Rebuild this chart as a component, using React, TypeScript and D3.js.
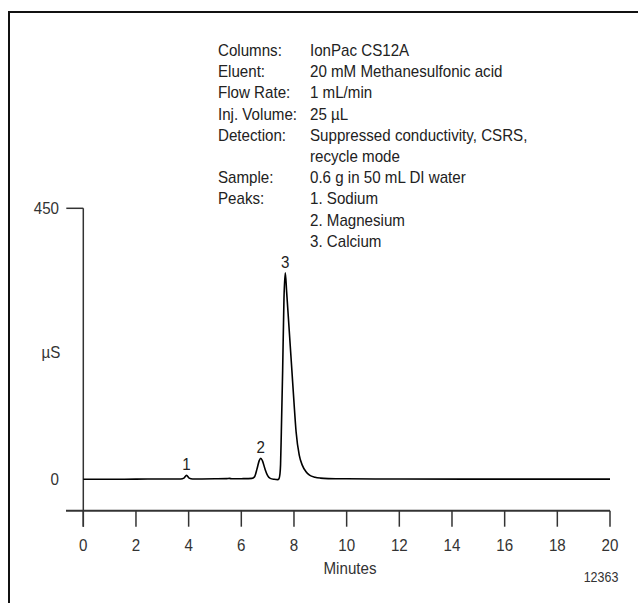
import * as d3 from 'd3'

// chromatogram trace: [minutes, µS]
const traceTimes = [
  0, 1, 2, 3, 3.7, 3.82, 3.92, 4.02, 4.15, 4.5, 5.0, 5.45, 5.55, 5.65, 6.0, 6.4,
  6.5, 6.6, 6.68, 6.74, 6.8, 6.9, 7.0, 7.1, 7.25, 7.38, 7.43, 7.47, 7.49, 7.52,
  7.57, 7.62, 7.67, 7.72, 7.8, 7.92, 8.0, 8.08, 8.2, 8.31, 8.45, 8.59, 8.8, 9.0, 9.3,
  10, 12, 15, 20,
]
const traceValues = [
  0, 0, 0.3, 0.5, 0.5, 2, 6.5, 2, 0.6, 0.6, 0.8, 1.2, 1.5, 0.8, 1, 1.5,
  4, 18, 31, 35, 31, 17, 6, 1.5, 0, -0.5, 1, 10, 24, 79,
  181, 300, 343, 312, 260, 181, 128, 79, 40, 24, 13, 7, 3.5, 2, 1.2,
  0.8, 0.5, 0.3, 0.3,
]

const peakNames = ['1', '2', '3']
const peakTimes = [3.92, 6.74, 7.67]
const peakHeights = [6.5, 35, 343]

const xTicks = [0, 2, 4, 6, 8, 10, 12, 14, 16, 18, 20]
const yTickLabels = [0, 450]

const infoLabels = ['Columns:', 'Eluent:', 'Flow Rate:', 'Inj. Volume:', 'Detection:', '', 'Sample:', 'Peaks:', '', '']
const infoValues = [
  'IonPac CS12A',
  '20 mM Methanesulfonic acid',
  '1 mL/min',
  '25 µL',
  'Suppressed conductivity, CSRS,',
  'recycle mode',
  '0.6 g in 50 mL DI water',
  '1. Sodium',
  '2. Magnesium',
  '3. Calcium',
]

const font = "'Liberation Sans', Arial, sans-serif"
const squeeze = 0.89

// narrow text: the original uses a condensed face
const T = (props: { x: number, y: number, size?: number, anchor?: string, fill?: string, children: any }) => {
  const { x, y, size = 17, anchor = 'start', fill = '#333', children } = props
  return (
    <text transform={`translate(${x},${y}) scale(${squeeze},1)`} fontSize={size} textAnchor={anchor} fill={fill}>
      {children}
    </text>
  )
}

export default function App() {
  const width = 638
  const height = 603

  const x = d3.scaleLinear().domain([0, 20]).range([83.3, 610])
  const y = d3.scaleLinear().domain([0, 450]).range([479.3, 208.3])
  const axisY = 510.7

  const points: [number, number][] = traceTimes.map((t, i) => [t, traceValues[i]])
  const line = d3.line<[number, number]>()
    .x(d => x(d[0]))
    .y(d => y(d[1]))
    .curve(d3.curveMonotoneX)

  return (
    <svg width={width} height={height} style={{ position: 'absolute', left: 0, top: 0, background: '#fff' }}
      fontFamily={font}>
      <rect x={9} y={12} width={width + 20} height={height + 20} fill="none" stroke="#111" strokeWidth={2} />

      {/* info block */}
      {infoLabels.map((l, i) => (
        <T key={'l' + i} x={218} y={56 + i * 21.2} fill="#222">{l}</T>
      ))}
      {infoValues.map((v, i) => (
        <T key={'v' + i} x={310} y={56 + i * 21.2} fill="#222">{v}</T>
      ))}

      {/* y axis */}
      <line x1={x(0)} x2={x(0)} y1={y(450)} y2={axisY + 16} stroke="#333" strokeWidth={1.5} />
      <line x1={x(0) - 17} x2={x(0)} y1={y(450)} y2={y(450)} stroke="#333" strokeWidth={1.5} />
      {yTickLabels.map(v => (
        <T key={v} x={59} y={y(v) + 6} anchor="end">{v}</T>
      ))}
      <T x={51} y={358} anchor="middle">µS</T>

      {/* x axis */}
      <line x1={66} x2={x(20)} y1={axisY} y2={axisY} stroke="#333" strokeWidth={2} />
      {xTicks.map(t => (
        <g key={t}>
          <line x1={x(t)} x2={x(t)} y1={axisY} y2={axisY + 16} stroke="#333" strokeWidth={1.5} />
          <T x={x(t)} y={551} anchor="middle">{t}</T>
        </g>
      ))}
      <T x={350} y={574} anchor="middle">Minutes</T>
      <T x={601} y={582} size={14} anchor="middle">12363</T>

      {/* trace */}
      <path d={line(points) ?? ''} fill="none" stroke="#000" strokeWidth={1.6} />

      {/* peak labels */}
      {peakNames.map((n, i) => (
        <T key={n} x={x(peakTimes[i])} y={y(peakHeights[i]) - 5} anchor="middle" fill="#222">{n}</T>
      ))}
    </svg>
  )
}
